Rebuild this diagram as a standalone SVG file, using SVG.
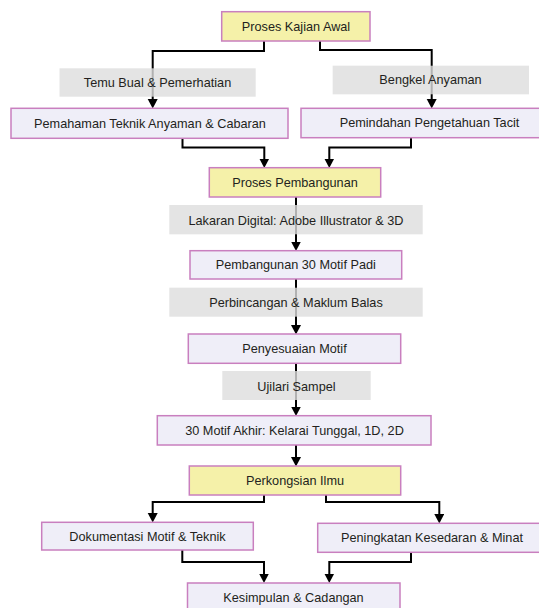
<svg xmlns="http://www.w3.org/2000/svg" width="539" height="608" viewBox="0 0 539 608">
  <defs>
    <marker id="arrow" markerUnits="userSpaceOnUse" markerWidth="11" markerHeight="11" refX="5" refY="5" orient="auto">
      <path d="M0,0 L9.5,5 L0,10 Z" fill="#000"/>
    </marker>
    <style>
      .conn { fill: none; stroke: #000; stroke-width: 2; marker-end: url(#arrow); }
      .lbl rect { fill: #dddddd; fill-opacity: 0.8; }
      .node rect { stroke: #c97fbf; stroke-width: 1.5; }
      .main rect { fill: #f5f1a9; }
      .step rect { fill: #efeef8; }
      text { font-family: "Liberation Sans", Arial, sans-serif; font-size: 12.7px; fill: #231f20; text-anchor: middle; }
    </style>
  </defs>
  <rect width="539" height="608" fill="#fff"/>

  <g id="connectors">
    <path class="conn" d="M264,41 V51 H152.7 V104"/>
    <path class="conn" d="M320,41 V50 H431.7 V104"/>
    <path class="conn" d="M182.5,138.3 V147.5 H264.3 V163.5"/>
    <path class="conn" d="M411,137.7 V147.5 H329.3 V163.5"/>
    <path class="conn" d="M296,197 V246.5"/>
    <path class="conn" d="M296,279 V330"/>
    <path class="conn" d="M296,363.3 V411.5"/>
    <path class="conn" d="M296,445 V462"/>
    <path class="conn" d="M264,495 V502 H152.7 V518"/>
    <path class="conn" d="M326,495 V502 H439.3 V519"/>
    <path class="conn" d="M182.3,550 V562 H264 V578.5"/>
    <path class="conn" d="M411,552.3 V562 H329.3 V578.5"/>
  </g>

  <g id="labels">
    <g class="lbl" id="lbl-temu"><rect x="59.5" y="68.3" width="196.2" height="28.4"/><text x="157.5" y="86.5">Temu Bual &amp; Pemerhatian</text></g>
    <g class="lbl" id="lbl-bengkel"><rect x="332.7" y="65.7" width="196.3" height="28.6"/><text x="430.5" y="84.3">Bengkel Anyaman</text></g>
    <g class="lbl" id="lbl-lakaran"><rect x="169.3" y="205" width="253.4" height="29.3"/><text x="296" y="224.8">Lakaran Digital: Adobe Illustrator &amp; 3D</text></g>
    <g class="lbl" id="lbl-perbincangan"><rect x="169.3" y="287.7" width="253.4" height="29"/><text x="296" y="307">Perbincangan &amp; Maklum Balas</text></g>
    <g class="lbl" id="lbl-ujilari"><rect x="222.3" y="371" width="148.4" height="29"/><text x="296.5" y="391">Ujilari Sampel</text></g>
  </g>

  <g id="kajian" class="node main"><rect x="221.7" y="11.7" width="148.3" height="29.3"/><text x="296" y="30.8">Proses Kajian Awal</text></g>
  <g id="pemahaman" class="node step"><rect x="11" y="108.3" width="277" height="30"/><text x="150" y="127.7">Pemahaman Teknik Anyaman &amp; Cabaran</text></g>
  <g id="pemindahan" class="node step"><rect x="301" y="108.3" width="258" height="29.4"/><text x="429.5" y="127.3">Pemindahan Pengetahuan Tacit</text></g>
  <g id="pembangunan" class="node main"><rect x="209.3" y="167.7" width="171.4" height="29.3"/><text x="295" y="187">Proses Pembangunan</text></g>
  <g id="motif30" class="node step"><rect x="190" y="250.7" width="211.7" height="28.3"/><text x="295.8" y="269.2">Pembangunan 30 Motif Padi</text></g>
  <g id="penyesuaian" class="node step"><rect x="188.3" y="334" width="212.4" height="29.3"/><text x="294.5" y="353.2">Penyesuaian Motif</text></g>
  <g id="akhir" class="node step"><rect x="157.3" y="415.7" width="273.7" height="29.3"/><text x="294.5" y="434.9">30 Motif Akhir: Kelarai Tunggal, 1D, 2D</text></g>
  <g id="perkongsian" class="node main"><rect x="189.3" y="466" width="211.4" height="29"/><text x="295" y="485">Perkongsian Ilmu</text></g>
  <g id="dokumentasi" class="node step"><rect x="41.7" y="522.3" width="211.6" height="27.7"/><text x="147.5" y="540.8">Dokumentasi Motif &amp; Teknik</text></g>
  <g id="peningkatan" class="node step"><rect x="317.7" y="523.3" width="228.6" height="29"/><text x="432" y="541.8">Peningkatan Kesedaran &amp; Minat</text></g>
  <g id="kesimpulan" class="node step"><rect x="187.5" y="583" width="212.5" height="29.5"/><text x="293.5" y="602">Kesimpulan &amp; Cadangan</text></g>
</svg>
